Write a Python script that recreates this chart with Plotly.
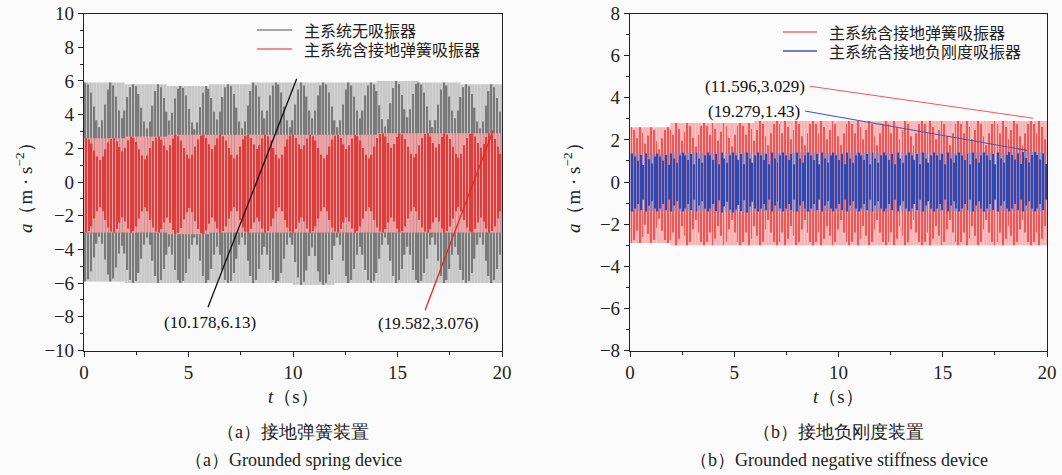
import plotly.graph_objects as go

# ---------------- data ----------------
# envelope knots every 2 s (value holds for the 2-s segment that starts at the knot)
t_knots = [0, 2, 4, 6, 8, 10, 12, 14, 16, 18, 20]

# panel (a): no absorber (grey) / grounded spring absorber (red)
gray_upper = [5.9, 5.8, 5.7, 5.8, 5.9, 5.9, 5.9, 6.0, 5.9, 5.8, 5.8]
gray_lower = [-5.9, -6.0, -6.0, -6.0, -6.0, -6.1, -6.0, -6.0, -6.0, -6.0, -6.0]
reda_upper = [2.6, 2.7, 2.8, 2.8, 2.8, 2.8, 2.8, 2.9, 2.9, 2.9, 3.0]
reda_lower = [-3.0, -3.0, -3.1, -3.0, -3.0, -3.0, -3.0, -3.0, -3.0, -3.0, -3.0]

# panel (b): grounded spring absorber (red) / grounded negative-stiffness absorber (blue)
redb_upper = [2.6, 2.8, 2.8, 2.9, 2.9, 2.9, 2.9, 2.9, 2.9, 2.9, 2.9]
redb_lower = [-2.9, -3.0, -3.0, -3.0, -3.0, -3.0, -3.0, -3.0, -3.0, -3.0, -3.0]
blue_upper = [1.35, 1.4, 1.4, 1.4, 1.4, 1.4, 1.4, 1.4, 1.4, 1.43, 1.43]
blue_lower = [-1.4, -1.4, -1.45, -1.4, -1.4, -1.4, -1.4, -1.4, -1.4, -1.4, -1.4]

# fraction of the envelope reached by successive oscillation cycles (beat texture in the picture)
full_peaks = [1.0]
beat_gray = [1.0, 0.98, 0.9, 0.76, 0.62, 0.55, 0.62, 0.78, 0.93, 1.0,
             0.97, 0.86, 0.72, 0.64, 0.72, 0.87, 0.97]
beat_red_a = [1.0, 0.97, 0.88, 0.72, 0.58, 0.5, 0.58, 0.75, 0.9, 0.98,
              1.0, 0.93, 0.8, 0.7, 0.78, 0.92]
beat_red_b = [1.0, 0.95, 0.8, 1.0, 0.9, 0.7, 0.85, 1.0, 0.95, 0.75, 0.6, 0.8, 0.95]
beat_blue = [1.0, 0.9, 0.75, 0.95, 0.6, 1.0, 0.8, 0.65, 0.9]

# annotated peaks
ann_a_black = (10.178, 6.13)
ann_a_red = (19.582, 3.076)
ann_b_red_label = "(11.596,3.029)"
ann_b_blue_label = "(19.279,1.43)"

legend_a = ["主系统无吸振器", "主系统含接地弹簧吸振器"]
legend_b = ["主系统含接地弹簧吸振器", "主系统含接地负刚度吸振器"]
captions = [("（a）接地弹簧装置", "（a）Grounded spring device"),
            ("（b）接地负刚度装置", "（b）Grounded negative stiffness device")]

x_ticks = [0, 5, 10, 15, 20]
ya_ticks = [-10, -8, -6, -4, -2, 0, 2, 4, 6, 8, 10]
yb_ticks = [-8, -6, -4, -2, 0, 2, 4, 6, 8]

# ---------------- style ----------------
W, H = 1062, 475
BG = "#fbfbfb"
SERIF = "Liberation Serif, Times New Roman, serif"
CJK = "Noto Sans CJK SC, sans-serif"
PERIOD = 0.134  # oscillation period of the dense signal (s)


def cycles(upper, lower, pattern, offset):
    """one column per oscillation cycle: its time, trough and crest"""
    ts, lo, hi = [], [], []
    k = 0
    while offset + k * PERIOD <= 20.0:
        t = offset + k * PERIOD
        seg = min(int(t // 2), len(upper) - 1)
        f = pattern[k % len(pattern)]
        ts.append(t)
        lo.append(lower[seg] * f)
        hi.append(upper[seg] * f)
        k += 1
    return ts, lo, hi


fig = go.Figure()


def add_series(upper, lower, pattern, light, dark, xa, ya, off, wl, wd, op_light=1.0):
    t1, lo1, hi1 = cycles(upper, lower, full_peaks, off)
    fig.add_trace(go.Bar(x=t1, base=lo1, y=[h - l for h, l in zip(hi1, lo1)],
                         width=PERIOD * wl, marker=dict(color=light, line=dict(width=0)),
                         opacity=op_light, xaxis=xa, yaxis=ya, showlegend=False, hoverinfo="skip"))
    t2, lo2, hi2 = cycles(upper, lower, pattern, off + PERIOD / 2)
    fig.add_trace(go.Bar(x=t2, base=lo2, y=[h - l for h, l in zip(hi2, lo2)],
                         width=PERIOD * wd, marker=dict(color=dark, line=dict(width=0)),
                         xaxis=xa, yaxis=ya, showlegend=False, hoverinfo="skip"))


add_series(gray_upper, gray_lower, beat_gray, "#c8c8c8", "#7a7a7a", "x", "y", 0.0, 1.0, 0.5)
add_series(reda_upper, reda_lower, beat_red_a, "#f2a2a2", "#dc3e3e", "x", "y", 0.03, 0.9, 0.5)
add_series(redb_upper, redb_lower, beat_red_b, "#f8b4b4", "#f05656", "x2", "y2", 0.0, 1.0, 0.28)
add_series(blue_upper, blue_lower, beat_blue, "#8090d8", "#2f48b0", "x2", "y2", 0.04, 0.55, 0.35, 0.65)

dom_a = [84 / W, 502 / W]
dom_b = [630 / W, 1047 / W]
dom_y = [1 - 350.5 / H, 1 - 13.5 / H]

axis_common = dict(showline=True, mirror=True, linecolor="#222222", linewidth=1.2,
                   ticks="outside", ticklen=5, tickwidth=1.1, tickcolor="#222222",
                   showgrid=False, zeroline=False, automargin=False,
                   tickfont=dict(family=SERIF, size=19, color="#222222"))

fig.update_layout(
    width=W, height=H, margin=dict(l=0, r=0, t=0, b=0, autoexpand=False),
    paper_bgcolor=BG, plot_bgcolor=BG, showlegend=False, barmode="overlay",
    xaxis=dict(domain=dom_a, anchor="y", range=[0, 20], tickvals=x_ticks,
               minor=dict(ticks="outside", ticklen=3, dtick=2.5, tickcolor="#222222"), **axis_common),
    yaxis=dict(domain=dom_y, anchor="x", range=[-10, 10], tickvals=ya_ticks,
               ticktext=[str(v).replace("-", "−") for v in ya_ticks],
               minor=dict(ticks="outside", ticklen=3, dtick=1, tickcolor="#222222"), **axis_common),
    xaxis2=dict(domain=dom_b, anchor="y2", range=[0, 20], tickvals=x_ticks,
                minor=dict(ticks="outside", ticklen=3, dtick=2.5, tickcolor="#222222"), **axis_common),
    yaxis2=dict(domain=dom_y, anchor="x2", range=[-8, 8], tickvals=yb_ticks,
                ticktext=[str(v).replace("-", "−") for v in yb_ticks],
                minor=dict(ticks="outside", ticklen=3, dtick=1, tickcolor="#222222"), **axis_common),
)

shapes = []
annos = []


def px(x):
    return x / W


def py(y):
    return 1 - y / H


def note(x, y, text, size, family, color="#222222", xanchor="center", **kw):
    d = dict(xref="paper", yref="paper", x=px(x), y=py(y), text=text, showarrow=False,
             xanchor=xanchor, yanchor="middle", font=dict(family=family, size=size, color=color))
    d.update(kw)
    annos.append(d)


# legends
for i, (txt, col) in enumerate(zip(legend_a, ["#8a8a8a", "#f06a6a"])):
    yy = [30, 49][i]
    shapes.append(dict(type="line", xref="paper", yref="paper", x0=px(257), x1=px(292),
                       y0=py(yy), y1=py(yy), line=dict(color=col, width=1.3)))
    note(302, yy, txt, 16, CJK, xanchor="left")
for i, (txt, col) in enumerate(zip(legend_b, ["#f06a6a", "#3c58c0"])):
    yy = [32, 51][i]
    shapes.append(dict(type="line", xref="paper", yref="paper", x0=px(783), x1=px(817),
                       y0=py(yy), y1=py(yy), line=dict(color=col, width=1.3)))
    note(827, yy, txt, 16, CJK, xanchor="left")

# data annotations panel (a)
shapes.append(dict(type="line", xref="x", yref="y", x0=ann_a_black[0], y0=ann_a_black[1],
                   x1=5.93, y1=-7.43, line=dict(color="#111111", width=1.3)))
annos.append(dict(xref="x", yref="y", x=6.03, y=-8.35, text="(%.3f,%.2f)" % ann_a_black,
                  xanchor="center", yanchor="middle",
                  showarrow=False, font=dict(family=SERIF, size=17, color="#111111")))
shapes.append(dict(type="line", xref="x", yref="y", x0=ann_a_red[0], y0=ann_a_red[1],
                   x1=16.32, y1=-7.61, line=dict(color="#ee2222", width=1.3)))
annos.append(dict(xref="x", yref="y", x=16.46, y=-8.38, text="(%.3f,%.3f)" % ann_a_red,
                  xanchor="center", yanchor="middle",
                  showarrow=False, font=dict(family=SERIF, size=17, color="#111111")))

# data annotations panel (b)
shapes.append(dict(type="line", xref="x2", yref="y2", x0=8.63, y0=4.55, x1=19.33, y1=3.03,
                   line=dict(color="#f05a5a", width=1.1)))
annos.append(dict(xref="x2", yref="y2", x=8.5, y=4.55, text=ann_b_red_label, xanchor="right",
                  yanchor="middle",
                  showarrow=False, font=dict(family=SERIF, size=17, color="#111111")))
shapes.append(dict(type="line", xref="x2", yref="y2", x0=8.39, y0=3.37, x1=19.05, y1=1.5,
                   line=dict(color="#3c58c0", width=1.1)))
annos.append(dict(xref="x2", yref="y2", x=8.25, y=3.33, text=ann_b_blue_label, xanchor="right",
                  yanchor="middle",
                  showarrow=False, font=dict(family=SERIF, size=17, color="#111111")))

# axis titles
ytitle = "<i>a</i>（m · s<sup>−2</sup>）"
for xx in (24, 572):
    note(xx, 183, ytitle, 19, SERIF, textangle=-90)
for xx in (293, 838.5):
    note(xx, 396, "<i>t</i>（s）", 19, SERIF)

# captions
for (cn, en), xx in zip(captions, (293, 838.5)):
    note(xx, 432, cn, 18, SERIF)
    note(xx, 460, en, 18, SERIF)

fig.update_layout(shapes=shapes, annotations=annos)
fig.write_html("out.html")
